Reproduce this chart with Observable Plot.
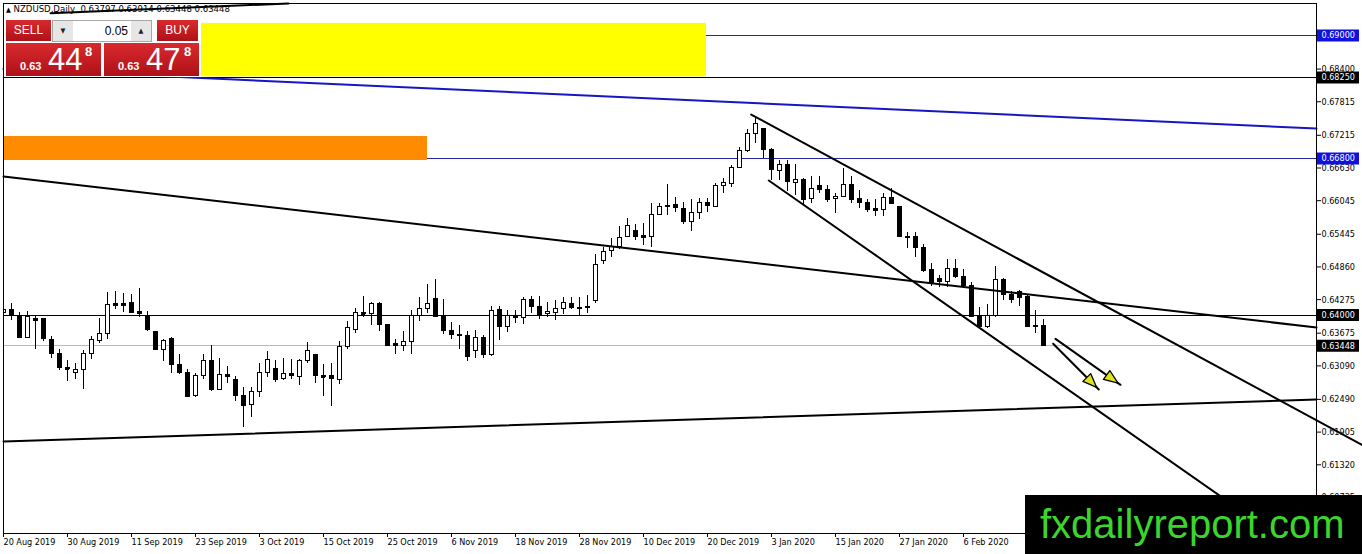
<!DOCTYPE html>
<html><head><meta charset="utf-8">
<script src="https://cdn.jsdelivr.net/npm/d3@7"></script>
<script src="https://cdn.jsdelivr.net/npm/@observablehq/plot@0.6"></script>
<style>
body{margin:0;background:#fff;}
#wrap{position:relative;width:1362px;height:554px;overflow:hidden;font-family:'DejaVu Sans Condensed','DejaVu Sans',sans-serif;}
#chart svg{display:block;}
.abs{position:absolute;}
#title{left:6px;top:3px;font-size:9.5px;line-height:11px;white-space:pre;color:#000;}
#panel{left:4px;top:18px;width:197px;height:59px;background:#fff;}
.red{background:linear-gradient(#d92a2e,#ae1118);color:#fff;}
.btn{font-family:'Liberation Sans',Arial,sans-serif;font-size:12px;text-align:center;line-height:21px;}
.spinbtn{top:0;width:20px;height:20px;background:#e6e6e6;color:#222;font-size:7px;text-align:center;line-height:20px;}
.big{top:25px;width:95px;height:33px;font-family:'Liberation Sans',Arial,sans-serif;}
.big span{position:absolute;line-height:1;white-space:pre;}
.s1{font-size:11px;font-weight:bold;top:18px;left:14px;}
.s2{font-size:31px;top:1px;left:42px;}
.s3{font-size:13px;font-weight:bold;top:2px;}
#wm{left:1025px;top:495px;width:337px;height:59px;background:#000;color:#3bd52c;font-family:'Liberation Sans',Arial,sans-serif;font-size:40px;line-height:59px;padding-left:15px;box-sizing:border-box;white-space:nowrap;}
</style></head>
<body>
<div id="wrap">
  <div id="chart"></div>
  <div id="title" class="abs"><span style="font-size:7px">▲</span> NZDUSD,Daily  0.63797 0.63914 0.63448 0.63448</div>
  <div id="panel" class="abs">
    <div class="abs red btn" style="left:2px;top:2px;width:45px;height:21px;">SELL</div>
    <div class="abs" style="left:48px;top:2px;width:98px;height:20px;border:1px solid #a8a8a8;background:#fff;">
      <div class="abs spinbtn" style="left:0;">▼</div>
      <div class="abs" style="right:23px;top:0;line-height:20px;font-family:'Liberation Sans',Arial,sans-serif;font-size:12px;color:#000;">0.05</div>
      <div class="abs spinbtn" style="right:0;">▲</div>
    </div>
    <div class="abs red btn" style="left:153px;top:2px;width:41px;height:21px;">BUY</div>
    <div class="abs red big" style="left:2px;"><span class="s1">0.63</span><span class="s2">44</span><span class="s3" style="left:79px;">8</span></div>
    <div class="abs red big" style="left:100px;"><span class="s1">0.63</span><span class="s2">47</span><span class="s3" style="left:80px;">8</span></div>
  </div>
  <div id="wm" class="abs">fxdailyreport.com</div>
</div>
<script>
// ---- Daily NZDUSD candles (bar index 0 = 20 Aug 2019) ----
const open  = [0.6403,0.6409,0.6399,0.6359,0.6393,0.6392,0.6356,0.6330,0.6305,0.6296,0.6302,0.6330,0.6353,0.6366,0.6419,0.6420,0.6422,0.6406,0.6399,0.6370,0.6338,0.6357,0.6311,0.6297,0.6255,0.6291,0.6318,0.6266,0.6293,0.6284,0.6255,0.6239,0.6262,0.6296,0.6304,0.6285,0.6295,0.6289,0.6318,0.6329,0.6291,0.6290,0.6284,0.6342,0.6373,0.6404,0.6402,0.6420,0.6382,0.6348,0.6345,0.6352,0.6399,0.6410,0.6429,0.6397,0.6372,0.6365,0.6363,0.6336,0.6359,0.6329,0.6409,0.6379,0.6397,0.6395,0.6427,0.6415,0.6401,0.6404,0.6411,0.6420,0.6411,0.6413,0.6425,0.6497,0.6514,0.6521,0.6539,0.6550,0.6542,0.6539,0.6579,0.6594,0.6597,0.6590,0.6566,0.6583,0.6601,0.6593,0.6630,0.6635,0.6663,0.6694,0.6723,0.6733,0.6696,0.6657,0.6669,0.6637,0.6642,0.6607,0.6630,0.6624,0.6608,0.6611,0.6633,0.6608,0.6600,0.6590,0.6587,0.6609,0.6593,0.6539,0.6539,0.6520,0.6480,0.6464,0.6459,0.6483,0.6468,0.6451,0.6397,0.6378,0.6399,0.6462,0.6435,0.6441,0.6432,0.6379,0.63797];
const high  = [0.6426,0.6421,0.6404,0.6407,0.6400,0.6393,0.6361,0.6339,0.6318,0.6314,0.6336,0.6361,0.6393,0.6440,0.6442,0.6438,0.6436,0.6448,0.6407,0.6371,0.6356,0.6359,0.6329,0.6302,0.6296,0.6329,0.6345,0.6323,0.6307,0.6290,0.6270,0.6270,0.6313,0.6335,0.6318,0.6323,0.6321,0.6321,0.6351,0.6329,0.6311,0.6313,0.6352,0.6389,0.6412,0.6433,0.6423,0.6423,0.6383,0.6357,0.6371,0.6408,0.6431,0.6454,0.6463,0.6427,0.6386,0.6382,0.6370,0.6372,0.6363,0.6415,0.6415,0.6408,0.6408,0.6432,0.6433,0.6433,0.6423,0.6426,0.6432,0.6431,0.6431,0.6435,0.6508,0.6521,0.6536,0.6558,0.6572,0.6562,0.6564,0.6599,0.6600,0.6633,0.6611,0.6602,0.6606,0.6608,0.6609,0.6635,0.6644,0.6668,0.6700,0.6731,0.6755,0.6734,0.6698,0.6676,0.6676,0.6669,0.6644,0.6648,0.6647,0.6632,0.6617,0.6662,0.6647,0.6622,0.6606,0.6606,0.6618,0.6626,0.6594,0.6548,0.6548,0.6526,0.6492,0.6471,0.6499,0.6500,0.6481,0.6458,0.6414,0.6419,0.6486,0.6465,0.6442,0.6444,0.6435,0.6408,0.63914];
const low   = [0.6394,0.6391,0.6358,0.6358,0.6339,0.6352,0.6323,0.6300,0.6281,0.6285,0.6266,0.6320,0.6349,0.6357,0.6409,0.6405,0.6403,0.6396,0.6370,0.6337,0.6317,0.6296,0.6293,0.6252,0.6253,0.6284,0.6263,0.6265,0.6277,0.6246,0.6199,0.6216,0.6252,0.6289,0.6280,0.6282,0.6285,0.6274,0.6313,0.6277,0.6255,0.6237,0.6276,0.6338,0.6367,0.6396,0.6382,0.6371,0.6344,0.6330,0.6335,0.6330,0.6389,0.6403,0.6395,0.6365,0.6357,0.6339,0.6317,0.6323,0.6323,0.6326,0.6355,0.6369,0.6385,0.6383,0.6402,0.6392,0.6396,0.6391,0.6401,0.6409,0.6399,0.6402,0.6421,0.6490,0.6503,0.6518,0.6538,0.6533,0.6524,0.6521,0.6578,0.6578,0.6584,0.6562,0.6550,0.6571,0.6584,0.6592,0.6617,0.6629,0.6662,0.6691,0.6707,0.6680,0.6641,0.6641,0.6621,0.6614,0.6598,0.6599,0.6617,0.6602,0.6581,0.6610,0.6599,0.6590,0.6584,0.6576,0.6576,0.6598,0.6538,0.6519,0.6502,0.6476,0.6451,0.6450,0.6449,0.6465,0.6449,0.6395,0.6377,0.6375,0.6396,0.6426,0.6420,0.6415,0.6377,0.6367,0.63448];
const close = [0.6409,0.6398,0.6359,0.6397,0.6389,0.6357,0.6330,0.6305,0.6303,0.6302,0.6330,0.6355,0.6366,0.6418,0.6416,0.6417,0.6404,0.6401,0.6374,0.6338,0.6354,0.6311,0.6296,0.6253,0.6291,0.6318,0.6266,0.6293,0.6289,0.6255,0.6237,0.6262,0.6296,0.6320,0.6284,0.6294,0.6290,0.6318,0.6336,0.6290,0.6289,0.6285,0.6342,0.6376,0.6403,0.6401,0.6420,0.6382,0.6345,0.6345,0.6352,0.6399,0.6410,0.6420,0.6396,0.6371,0.6364,0.6363,0.6324,0.6358,0.6329,0.6407,0.6379,0.6398,0.6394,0.6427,0.6414,0.6398,0.6406,0.6411,0.6422,0.6413,0.6413,0.6414,0.6490,0.6512,0.6521,0.6538,0.6560,0.6540,0.6538,0.6579,0.6594,0.6595,0.6592,0.6566,0.6583,0.6601,0.6595,0.6630,0.6637,0.6663,0.6694,0.6723,0.6741,0.6696,0.6660,0.6669,0.6638,0.6642,0.6606,0.6626,0.6624,0.6605,0.6612,0.6633,0.6605,0.6601,0.6588,0.6586,0.6610,0.6599,0.6539,0.6538,0.6520,0.6478,0.6457,0.6459,0.6483,0.6468,0.6451,0.6396,0.6378,0.6399,0.6462,0.6435,0.6427,0.6431,0.6378,0.6380,0.63448];

// ---- axis ticks ----
const xTickIdx = [0,8,16,24,32,40,48,56,64,72,80,88,96,104,112,120];
const xTickLabels = ["20 Aug 2019","30 Aug 2019","11 Sep 2019","23 Sep 2019","3 Oct 2019","15 Oct 2019","25 Oct 2019","6 Nov 2019","18 Nov 2019","28 Nov 2019","10 Dec 2019","20 Dec 2019","3 Jan 2020","15 Jan 2020","27 Jan 2020","6 Feb 2020"];
const yTicks = [0.68400,0.67815,0.67215,0.66630,0.66045,0.65445,0.64860,0.64275,0.63675,0.63090,0.62490,0.61905,0.61320,0.60735];

// ---- horizontal levels ----
const levelsBlue  = [0.69000, 0.66800];
const levelsBlack = [0.68250, 0.64000];
const bidPrice    = [0.63448];

// ---- zones (bar index, price) ----
const zoneYellow = {x1: 20, x2: 87.875, y1: 0.69217, y2: 0.68260};
const zoneOrange = {x1: 0, x2: 53.0, y1: 0.67194, y2: 0.66764};

// ---- trendlines: [bar index, price] ----
const lineLongBlack  = [[0, 0.66478], [164.125, 0.63777]];
const lineBottom     = [[0, 0.61737], [164.125, 0.62489]];
const lineBlue       = [[0, 0.68399], [164.125, 0.67337]];
const channelUpper   = [[93.46, 0.67587], [169.875, 0.61671]];
const channelLower   = [[95.66, 0.66406], [158.79, 0.60091]];
const lineTopLeft    = [[5.875, 0.69399], [35.625, 0.69573]];
const arrowA         = [[131.5, 0.63574], [139.625, 0.62751]];
const arrowB         = [[131.21, 0.63485], [136.91, 0.62667]];

const xMin = 0, xMax = 164.125, yMin = 0.60091, yMax = 0.69573;
const W = 1362, H = 554, mL = 3, mR = 46, mT = 3, mB = 21;

const bars = open.map((o, i) => ({i, o, h: high[i], l: low[i], c: close[i]}));
const bulls = bars.filter(d => d.c > d.o);
const bears = bars.filter(d => d.c <= d.o);
const thin = bars.filter(d => Math.abs(d.c - d.o) < 0.0003);

const sx = Plot.scale({x: {domain: [xMin, xMax], range: [mL, W - mR]}});
const sy = Plot.scale({y: {domain: [yMin, yMax], range: [H - mB, mT]}});
function head(seg) {
  const [a, b] = seg;
  const ax = sx.apply(a[0]), ay = sy.apply(a[1]), bx = sx.apply(b[0]), by = sy.apply(b[1]);
  const len = Math.hypot(bx - ax, by - ay), ux = (bx - ax) / len, uy = (by - ay) / len;
  const nx = -uy, ny = ux;
  const tip = [bx - ux * 3, by - uy * 3], base = [bx - ux * 17, by - uy * 17];
  const pts = [tip, [base[0] + nx * 5.5, base[1] + ny * 5.5], [base[0] - nx * 5.5, base[1] - ny * 5.5], tip];
  return pts.map(([px, py]) => ({x: sx.invert(px), y: sy.invert(py)}));
}
const seg = (arr) => arr.map(([x, y]) => ({x, y}));
const fmt = d3.format(".5f");
const labelMap = new Map(xTickIdx.map((k, j) => [k, xTickLabels[j]]));
const boxX1 = xMax + 1 / 8, boxX2 = xMax + 43 / 8;

const chart = Plot.plot({
  width: W, height: H, marginLeft: mL, marginRight: mR, marginTop: mT, marginBottom: mB,
  x: {domain: [xMin, xMax]},
  y: {domain: [yMin, yMax]},
  style: {fontFamily: "'DejaVu Sans Condensed','DejaVu Sans',sans-serif", fontSize: "9px", background: "#fff", color: "#000"},
  marks: [
    Plot.ruleY(levelsBlue, {stroke: "#2626aa", shapeRendering: "crispEdges"}),
    Plot.ruleY(levelsBlack, {stroke: "#000", shapeRendering: "crispEdges"}),
    Plot.ruleY(bidPrice, {stroke: "#b8b8b8", shapeRendering: "crispEdges"}),
    Plot.rect([zoneYellow], {x1: "x1", x2: "x2", y1: "y1", y2: "y2", fill: "#ffff00", clip: true}),
    Plot.rect([zoneOrange], {x1: "x1", x2: "x2", y1: "y1", y2: "y2", fill: "#ff8c00", clip: true}),
    Plot.ruleX(bars, {x: "i", y1: "l", y2: "h", stroke: "#000", shapeRendering: "crispEdges", clip: true}),
    Plot.rect(bulls, {x1: d => d.i - 0.25, x2: d => d.i + 0.25, y1: "o", y2: "c", fill: "#fff", stroke: "#000", shapeRendering: "crispEdges", clip: true}),
    Plot.rect(bears, {x1: d => d.i - 0.25, x2: d => d.i + 0.25, y1: "o", y2: "c", fill: "#000", stroke: "#000", shapeRendering: "crispEdges", clip: true}),
    Plot.ruleY(thin, {y: "c", x1: d => d.i - 0.25, x2: d => d.i + 0.25, stroke: "#000", shapeRendering: "crispEdges", clip: true}),
    Plot.line(seg(lineLongBlack), {x: "x", y: "y", stroke: "#000", strokeWidth: 2}),
    Plot.line(seg(lineBottom), {x: "x", y: "y", stroke: "#000", strokeWidth: 2}),
    Plot.line(seg(lineBlue), {x: "x", y: "y", stroke: "#1616c4", strokeWidth: 2}),
    Plot.line(seg(channelUpper), {x: "x", y: "y", stroke: "#000", strokeWidth: 2}),
    Plot.line(seg(channelLower), {x: "x", y: "y", stroke: "#000", strokeWidth: 2}),
    Plot.line(seg(lineTopLeft), {x: "x", y: "y", stroke: "#000", strokeWidth: 2}),
    Plot.line(seg(arrowA), {x: "x", y: "y", stroke: "#000", strokeWidth: 2}),
    Plot.line(seg(arrowB), {x: "x", y: "y", stroke: "#000", strokeWidth: 2}),
    Plot.line(head(arrowA), {x: "x", y: "y", fill: "#dfe31a", stroke: "#000", strokeWidth: 1.3}),
    Plot.line(head(arrowB), {x: "x", y: "y", fill: "#dfe31a", stroke: "#000", strokeWidth: 1.3}),
    Plot.frame({stroke: "#000", shapeRendering: "crispEdges"}),
    Plot.axisY({anchor: "right", ticks: yTicks, tickFormat: fmt, tickSize: 4, tickPadding: 1, label: null}),
    Plot.axisX({ticks: xTickIdx, tickFormat: d => labelMap.get(d), tickSize: 4, tickPadding: 1, textAnchor: "start", label: null}),
    Plot.ruleY(levelsBlue, {x1: boxX1, x2: boxX2, stroke: "#1010e0", strokeWidth: 12}),
    Plot.ruleY([...levelsBlack, ...bidPrice], {x1: boxX1, x2: boxX2, stroke: "#000", strokeWidth: 12}),
    Plot.text([...levelsBlue, ...levelsBlack, ...bidPrice], {y: d => d, x: xMax, dx: 5, text: fmt, textAnchor: "start", fill: "#fff"})
  ]
});
document.getElementById("chart").appendChild(chart);
</script>
</body></html>
